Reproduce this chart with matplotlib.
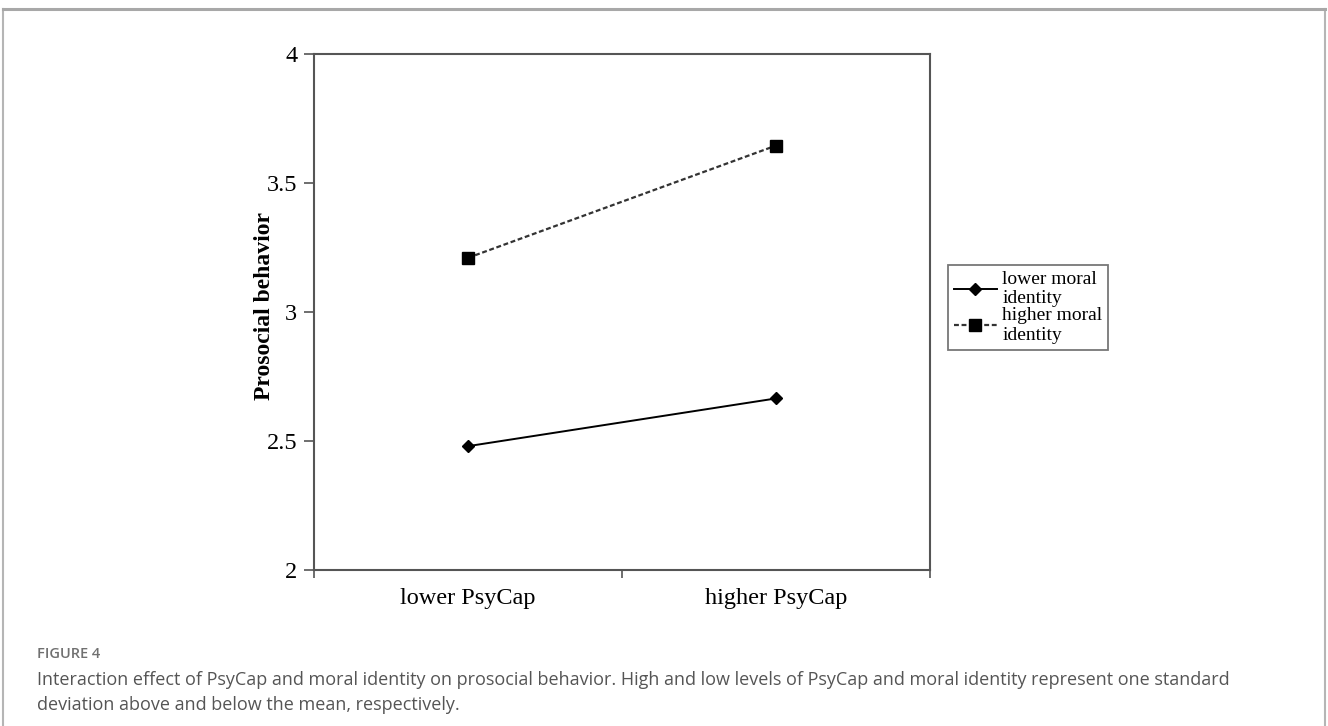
import matplotlib
matplotlib.use("Agg")
import matplotlib.pyplot as plt
from matplotlib.lines import Line2D

# data
groups = ["lower PsyCap", "higher PsyCap"]
lower_moral = [2.48, 2.665]
higher_moral = [3.21, 3.645]
series_names = ["lower moral\nidentity", "higher moral\nidentity"]
yticks = [2, 2.5, 3, 3.5, 4]
yticklabels = ["2", "2.5", "3", "3.5", "4"]

SERIF = ["Liberation Serif", "DejaVu Serif"]
CAP_FONT = ["Open Sans", "DejaVu Sans"]

W, H = 1328, 726
fig = plt.figure(figsize=(W / 100, H / 100), dpi=100)

# outer frame of the figure panel
frame_kw = dict(transform=fig.transFigure, color="#b5b5b5", lw=1.5)
fig.add_artist(Line2D([3 / W, 3 / W], [0, 1 - 9 / H], **frame_kw))
fig.add_artist(Line2D([1325 / W, 1325 / W], [0, 1 - 9 / H], **frame_kw))
fig.add_artist(Line2D([3 / W, 1325 / W], [1 - 9 / H, 1 - 9 / H],
                      transform=fig.transFigure, color="#a8a8a8", lw=2.2))

ax = fig.add_axes([314 / W, 1 - 570 / H, 616 / W, 516 / H])
x = [0.5, 1.5]
ax.plot(x, lower_moral, color="black", lw=1.4, marker="D", ms=6,
        label=series_names[0])
ax.plot(x, higher_moral, color="#333333", lw=1.6, ls=(0, (2.2, 1.2)),
        marker="s", ms=8, mfc="black", mec="black", label=series_names[1])

ax.set_xlim(0, 2)
ax.set_ylim(2, 4)
ax.set_yticks(yticks)
ax.set_yticklabels(yticklabels, fontfamily=SERIF, fontsize=17.5)
ax.set_xticks([0, 1, 2])
ax.set_xticklabels([])
ax.set_xticks(x, minor=True)
ax.set_xticklabels(groups, minor=True, fontfamily=SERIF, fontsize=17.5)
ax.tick_params(axis="x", which="major", direction="out", length=6,
               width=1.2, color="#555555")
ax.tick_params(axis="x", which="minor", length=0, pad=13)
ax.tick_params(axis="y", direction="out", length=7, width=1.2,
               color="#555555", pad=5)
for s in ax.spines.values():
    s.set_color("#555555")
    s.set_linewidth(1.5)
ax.set_ylabel("Prosocial behavior", fontfamily=SERIF, fontsize=17,
              fontweight="bold")
ax.yaxis.set_label_coords(-0.064, 0.512)

leg = ax.legend(loc="upper left", bbox_to_anchor=(948 / W, 1 - 265 / H),
                bbox_transform=fig.transFigure, prop={"family": SERIF, "size": 14},
                frameon=True, fancybox=False, edgecolor="#555555",
                handlelength=2.2, handletextpad=0.3, borderpad=0.3,
                labelspacing=0.0, borderaxespad=0)
leg.get_frame().set_linewidth(1.3)
for t in leg.get_texts():
    t.set_linespacing(1.2)

fig.text(37 / W, 1 - 654 / H, "FIGURE 4", fontfamily=CAP_FONT, fontsize=10.5,
         fontweight="semibold", color="#707070", va="center")
fig.text(37 / W, 1 - 680 / H,
         "Interaction effect of PsyCap and moral identity on prosocial behavior. "
         "High and low levels of PsyCap and moral identity represent one standard",
         fontfamily=CAP_FONT, fontsize=13, color="#555555", va="center")
fig.text(37 / W, 1 - 705 / H, "deviation above and below the mean, respectively.",
         fontfamily=CAP_FONT, fontsize=13, color="#555555", va="center")

fig.savefig("out.png", dpi=100, facecolor="white")
